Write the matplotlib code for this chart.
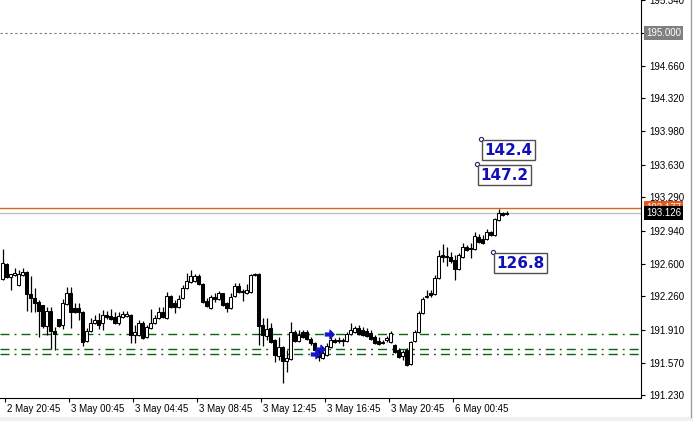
import matplotlib
matplotlib.use('Agg')
import matplotlib.pyplot as plt
import numpy as np
from matplotlib.transforms import blended_transform_factory, ScaledTranslation
from matplotlib.patches import Rectangle
from matplotlib.lines import Line2D

# M15 candles
opens = [192.438, 192.595, 192.459, 192.480, 192.376, 192.480, 192.511, 192.282, 192.241, 192.199,
         192.168, 191.949, 192.105, 191.897, 192.022, 191.959, 192.178, 192.293, 192.136, 192.136,
         192.095, 191.793, 191.897, 191.980, 192.011, 191.980, 192.064, 192.053, 192.043, 191.980,
         192.043, 192.053, 192.064, 191.855, 191.855, 191.980, 191.834, 191.928, 191.980, 192.032,
         192.095, 192.032, 192.261, 192.189, 192.147, 192.241, 192.345, 192.407, 192.417, 192.469,
         192.386, 192.209, 192.136, 192.251, 192.230, 192.293, 192.189, 192.136, 192.261, 192.365,
         192.313, 192.293, 192.303, 192.480, 192.490, 191.959, 191.845, 191.928, 191.803, 191.636,
         191.730, 191.584, 191.605, 191.886, 191.793, 191.886, 191.886, 191.813, 191.772, 191.699,
         191.616, 191.647, 191.730, 191.803, 191.803, 191.803, 191.793, 191.866, 191.886, 191.928,
         191.907, 191.897, 191.876, 191.834, 191.793, 191.782, 191.803, 191.782, 191.751, 191.699,
         191.636, 191.699, 191.553, 191.793, 191.886, 192.084, 192.251, 192.293, 192.282, 192.449,
         192.688, 192.678, 192.667, 192.636, 192.542, 192.667, 192.771, 192.761, 192.751, 192.876,
         192.855, 192.855, 192.928, 192.897, 193.053, 193.125, 193.115]
highs = [192.751, 192.605, 192.490, 192.553, 192.532, 192.553, 192.522, 192.469, 192.345, 192.220,
         192.168, 192.147, 192.147, 191.939, 192.022, 192.230, 192.355, 192.355, 192.189, 192.189,
         192.105, 191.928, 192.032, 192.064, 192.084, 192.116, 192.105, 192.126, 192.095, 192.095,
         192.105, 192.105, 192.074, 191.959, 192.011, 192.001, 191.959, 192.126, 192.064, 192.147,
         192.147, 192.303, 192.272, 192.220, 192.272, 192.376, 192.501, 192.532, 192.490, 192.490,
         192.397, 192.241, 192.272, 192.293, 192.313, 192.293, 192.199, 192.293, 192.397, 192.397,
         192.334, 192.386, 192.490, 192.501, 192.501, 192.032, 192.032, 191.980, 191.813, 191.834,
         191.741, 191.699, 191.991, 191.907, 191.907, 191.907, 191.907, 191.834, 191.782, 191.709,
         191.688, 191.772, 191.834, 191.824, 191.834, 191.824, 191.886, 191.980, 191.949, 191.959,
         191.939, 191.928, 191.907, 191.855, 191.834, 191.803, 191.845, 191.897, 191.761, 191.720,
         191.699, 191.720, 191.793, 191.907, 192.105, 192.251, 192.324, 192.324, 192.480, 192.740,
         192.803, 192.771, 192.719, 192.688, 192.709, 192.813, 192.792, 192.813, 192.928, 192.907,
         192.897, 192.959, 192.938, 193.073, 193.167, 193.136, 193.146]
lows = [192.428, 192.449, 192.324, 192.469, 192.365, 192.469, 192.105, 192.095, 192.095, 191.834,
        191.928, 191.855, 191.709, 191.699, 191.939, 191.918, 192.168, 191.928, 192.084, 192.011,
        191.741, 191.782, 191.886, 191.970, 191.918, 191.907, 192.022, 192.011, 191.970, 191.959,
        192.032, 192.043, 191.772, 191.772, 191.845, 191.813, 191.824, 191.918, 191.970, 192.022,
        192.032, 192.022, 192.136, 192.084, 192.136, 192.230, 192.334, 192.397, 192.407, 192.376,
        192.189, 192.147, 192.126, 192.199, 192.220, 192.157, 192.095, 192.126, 192.251, 192.293,
        192.209, 192.282, 192.293, 192.469, 191.751, 191.741, 191.803, 191.772, 191.574, 191.595,
        191.355, 191.470, 191.595, 191.782, 191.782, 191.824, 191.803, 191.751, 191.688, 191.584,
        191.605, 191.636, 191.720, 191.772, 191.772, 191.741, 191.782, 191.855, 191.876, 191.855,
        191.845, 191.834, 191.803, 191.761, 191.751, 191.761, 191.782, 191.772, 191.668, 191.616,
        191.595, 191.532, 191.543, 191.782, 191.876, 192.074, 192.241, 192.251, 192.272, 192.438,
        192.615, 192.574, 192.605, 192.428, 192.532, 192.657, 192.730, 192.657, 192.740, 192.813,
        192.803, 192.844, 192.886, 192.886, 193.042, 193.094, 193.105]
closes = [192.605, 192.459, 192.490, 192.501, 192.490, 192.511, 192.282, 192.241, 192.189, 192.105,
          191.949, 192.105, 191.897, 191.866, 191.949, 192.189, 192.293, 192.095, 192.095, 192.095,
          191.782, 191.897, 191.980, 192.011, 191.959, 192.064, 192.043, 192.022, 191.980, 192.053,
          192.074, 192.074, 191.855, 191.886, 191.980, 191.824, 191.939, 191.980, 192.032, 192.095,
          192.043, 192.261, 192.147, 192.147, 192.230, 192.345, 192.417, 192.469, 192.469, 192.386,
          192.199, 192.157, 192.251, 192.230, 192.293, 192.168, 192.136, 192.251, 192.365, 192.303,
          192.303, 192.324, 192.480, 192.490, 191.949, 191.855, 191.918, 191.782, 191.647, 191.730,
          191.584, 191.616, 191.886, 191.793, 191.855, 191.834, 191.813, 191.772, 191.699, 191.626,
          191.668, 191.741, 191.803, 191.782, 191.793, 191.793, 191.866, 191.907, 191.928, 191.866,
          191.855, 191.845, 191.813, 191.772, 191.761, 191.772, 191.824, 191.876, 191.678, 191.626,
          191.678, 191.543, 191.782, 191.886, 192.084, 192.230, 192.261, 192.272, 192.449, 192.678,
          192.667, 192.667, 192.626, 192.542, 192.688, 192.771, 192.740, 192.751, 192.886, 192.823,
          192.813, 192.928, 192.897, 193.063, 193.125, 193.105, 193.126]

time_idx = [0, 16, 32, 48, 64, 80, 96, 112]
time_labels = ['2 May 20:45', '3 May 00:45', '3 May 04:45', '3 May 08:45',
               '3 May 12:45', '3 May 16:45', '3 May 20:45', '6 May 00:45']
price_ticks = [191.230, 191.570, 191.910, 192.260, 192.600, 192.940, 193.290,
               193.630, 193.980, 194.320, 194.660, 195.000, 195.340]

level_195 = 195.000
alert_level = 193.177
bid_level = 193.126
green_levels = [191.866, 191.709, 191.657]

arrow_idx = [78.1, 79.4, 81.6]
arrow_price = [191.657, 191.709, 191.866]

note_idx = [119.6, 118.6, 122.6]
note_price = [193.896, 193.636, 192.719]
note_text = ['142.4', '147.2', '126.8']

plt.rcParams['font.family'] = ['Liberation Sans', 'DejaVu Sans']

fig = plt.figure(figsize=(6.93, 4.21), dpi=100)
ax = fig.add_axes([0, 23.5 / 421, 641 / 693, 397.5 / 421])

x = np.arange(len(opens))
o = np.array(opens)
c = np.array(closes)
up = c >= o

# candles
ax.vlines(x, lows, highs, color='black', lw=0.9, zorder=3)
ax.bar(x, c - o, bottom=o, width=0.62,
       color=np.where(up, 'white', 'black'), edgecolor='black',
       linewidth=0.75, zorder=4)

# horizontal lines
ax.axhline(level_195, color='#808080', lw=0.8, ls=(0, (2.2, 2.2)), zorder=1)
ax.axhline(alert_level, color='#d2691e', lw=1.0, zorder=1)
ax.axhline(bid_level, color='#c0c0c0', lw=1.0, zorder=1)
for lv in green_levels:
    ax.axhline(lv, color='#0c640c', lw=1.0, ls=(0, (6.5, 3.6, 1.4, 3.6)), zorder=1)

# trade arrows
arrow_shape = [(-1, 0.3), (0.1, 0.3), (0.1, 0.9), (1, 0), (0.1, -0.9), (0.1, -0.3), (-1, -0.3)]
ax.scatter(arrow_idx, arrow_price, marker=arrow_shape, s=45, color='#1414c8', zorder=5)

# text objects
for xi, pi, t in zip(note_idx, note_price, note_text):
    ax.plot(xi, pi, 'o', ms=3, mfc='white', mec='#202080', mew=0.8, zorder=6)
    ax.annotate(t, xy=(xi, pi), xytext=(2.4, -2.4), textcoords='offset points',
                ha='left', va='top', fontsize=11, fontweight='bold',
                family='DejaVu Sans', color='#1010b8', zorder=6,
                bbox=dict(boxstyle='square,pad=0.15', fc='white', ec='#505050', lw=1))

ax.set_xlim(-0.625, 159.625)
ax.set_ylim(191.209, 195.344)

# axes
for s in ['left', 'top']:
    ax.spines[s].set_visible(False)
for s in ['right', 'bottom']:
    ax.spines[s].set_linewidth(0.8)

# 195.000 is shown by its own grey box, so its plain tick label stays empty
ax.yaxis.tick_right()
ax.set_yticks(price_ticks, ['' if v == level_195 else '%.3f' % v for v in price_ticks])
ax.tick_params(axis='y', direction='out', length=3, width=0.8, pad=3, labelsize=7)

ax.set_xticks([i + 0.6 for i in time_idx], time_labels)
ax.tick_params(axis='x', direction='out', length=3, width=0.8, pad=2, labelsize=7)
for lbl in ax.get_xticklabels():
    lbl.set_horizontalalignment('left')
    lbl.set_transform(lbl.get_transform() + ScaledTranslation(2 / 100, 0, fig.dpi_scale_trans))

# price labels on the scale
tr = blended_transform_factory(ax.transAxes, ax.transData) + \
    ScaledTranslation(5 / 100, 0, fig.dpi_scale_trans)
for val, bg, z in [(level_195, '#808080', 7), (alert_level, '#e2581e', 7), (bid_level, 'black', 8)]:
    ax.text(1.0, val, '%.3f' % val, transform=tr, ha='left', va='center',
            fontsize=7, color='white', clip_on=False, zorder=z,
            bbox=dict(boxstyle='square,pad=0.2', fc=bg, ec='none'))

# window border bits
fig.patches.append(Rectangle((0, 0), 1, 4 / 421, transform=fig.transFigure,
                             color='#f0f0f0', zorder=0))
fig.add_artist(Line2D([690.5 / 693] * 2, [4 / 421, 1], color='#a0a0a0', lw=1))

fig.savefig('out.png', dpi=100)
